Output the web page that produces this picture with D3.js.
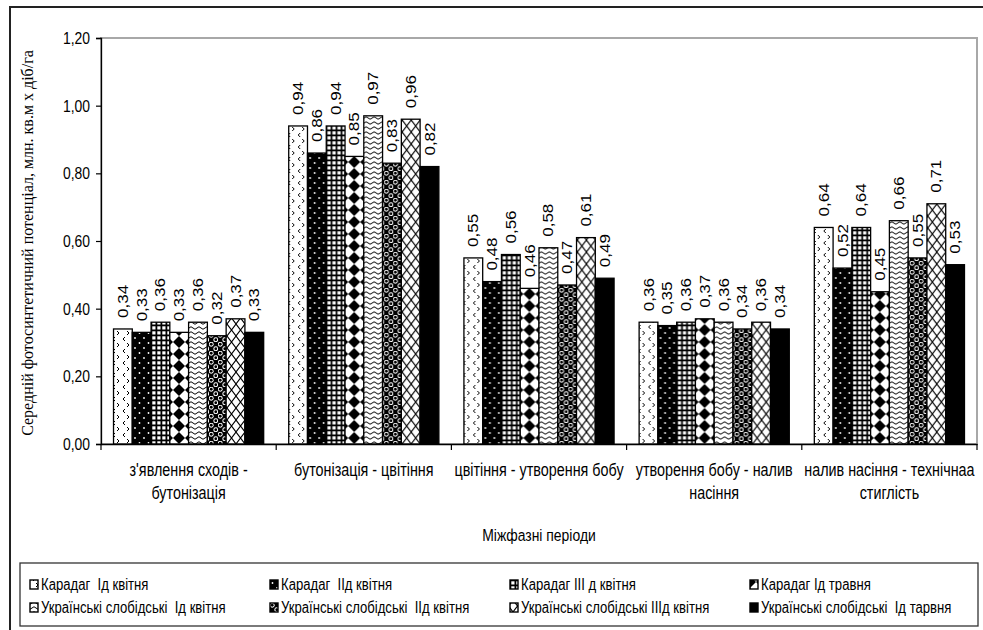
<!DOCTYPE html>
<html>
<head>
<meta charset="utf-8">
<script src="https://cdn.jsdelivr.net/npm/d3@7"></script>
<style>
  html, body { margin: 0; padding: 0; background: #fff; }
  svg { display: block; }
  text { font-family: "Liberation Sans", Arial, sans-serif; fill: #000; white-space: pre; }
</style>
</head>
<body>
<svg id="chart" width="983" height="630"></svg>
<script>
// Interphase periods (category axis)
const categories = [
  "з'явлення сходів -\nбутонізація",
  "бутонізація - цвітіння",
  "цвітіння - утворення бобу",
  "утворення бобу - налив\nнасіння",
  "налив насіння - технічнаа\nстиглість"
];

// Variety / sowing date series
const series = [
  "Карадаг  Ід квітня",
  "Карадаг  ІІд квітня",
  "Карадаг ІІІ д квітня",
  "Карадаг Ід травня",
  "Українські слобідські  Ід квітня",
  "Українські слобідські  ІІд квітня",
  "Українські слобідські ІІІд квітня",
  "Українські слобідські  Ід тарвня"
];

// Mean photosynthetic potential per period, one array per series
const karadag1Apr   = [0.34, 0.94, 0.55, 0.36, 0.64];
const karadag2Apr   = [0.33, 0.86, 0.48, 0.35, 0.52];
const karadag3Apr   = [0.36, 0.94, 0.56, 0.36, 0.64];
const karadag1May   = [0.33, 0.85, 0.46, 0.37, 0.45];
const slobidski1Apr = [0.36, 0.97, 0.58, 0.36, 0.66];
const slobidski2Apr = [0.32, 0.83, 0.47, 0.34, 0.55];
const slobidski3Apr = [0.37, 0.96, 0.61, 0.36, 0.71];
const slobidski1May = [0.33, 0.82, 0.49, 0.34, 0.53];

const seriesValues = [karadag1Apr, karadag2Apr, karadag3Apr, karadag1May,
                      slobidski1Apr, slobidski2Apr, slobidski3Apr, slobidski1May];

const yTicks = [0, 0.2, 0.4, 0.6, 0.8, 1.0, 1.2];

const yTitle = "Середній фотосинтетичний потенціал, млн. кв.м х діб/га";
const xTitle = "Міжфазні періоди";

const svg = d3.select("#chart");
const defs = svg.append("defs");
const SX = 0.82; // horizontal squeeze of lettering

// ---- fill patterns ----
function pat(id, w, h, draw) {
  const p = defs.append("pattern").attr("id", id)
    .attr("patternUnits", "userSpaceOnUse").attr("width", w).attr("height", h);
  draw(p);
}
// small chevrons on white
pat("p0", 10, 12, p => {
  p.append("rect").attr("width", 10).attr("height", 12).attr("fill", "#fff");
  p.append("path").attr("d", "M4,1 L2,3 L4,5").attr("fill", "none").attr("stroke", "#000").attr("stroke-width", 1);
  p.append("path").attr("d", "M6,7 L8,9 L6,11").attr("fill", "none").attr("stroke", "#000").attr("stroke-width", 1);
});
// white dots on black
pat("p1", 9, 10, p => {
  p.append("rect").attr("width", 9).attr("height", 10).attr("fill", "#000");
  p.append("circle").attr("cx", 2.5).attr("cy", 3).attr("r", 0.9).attr("fill", "#fff");
  p.append("circle").attr("cx", 7).attr("cy", 8).attr("r", 0.9).attr("fill", "#fff");
});
// square grid
pat("p2", 5, 5, p => {
  p.append("rect").attr("width", 5).attr("height", 5).attr("fill", "#000");
  p.append("rect").attr("x", 1.3).attr("y", 1.3).attr("width", 3.2).attr("height", 3.2).attr("fill", "#fff");
});
// diamonds
pat("p3", 12, 12, p => {
  p.append("rect").attr("width", 12).attr("height", 12).attr("fill", "#fff");
  p.append("path").attr("d", "M6,0 L12,6 L6,12 L0,6 Z").attr("fill", "#000");
});
// waves
pat("p4", 8, 5, p => {
  p.append("rect").attr("width", 8).attr("height", 5).attr("fill", "#fff");
  p.append("path").attr("d", "M0,3 Q2,0.5 4,3 T8,3").attr("fill", "none").attr("stroke", "#000").attr("stroke-width", 1);
});
// white rings with dark centres on black
pat("p5", 9, 9, p => {
  p.append("rect").attr("width", 9).attr("height", 9).attr("fill", "#000");
  [[2.25, 2.25], [6.75, 6.75]].forEach(([cx, cy]) => {
    p.append("circle").attr("cx", cx).attr("cy", cy).attr("r", 2.4).attr("fill", "#fff");
    p.append("circle").attr("cx", cx).attr("cy", cy).attr("r", 1.4).attr("fill", "#000");
  });
});
// trellis
pat("p6", 9, 12, p => {
  p.append("rect").attr("width", 9).attr("height", 12).attr("fill", "#fff");
  p.append("path").attr("d", "M0,0 L9,12 M9,0 L0,12")
    .attr("stroke", "#000").attr("stroke-width", 1.1);
});
// solid
pat("p7", 4, 4, p => {
  p.append("rect").attr("width", 4).attr("height", 4).attr("fill", "#000");
});
const fills = series.map((s, i) => `url(#p${i})`);

// ---- outer frame ----
svg.append("path").attr("d", "M10,630 V7 H983")
  .attr("fill", "none").attr("stroke", "#222").attr("stroke-width", 2);

// ---- scales ----
const plot = { left: 101, right: 977, top: 38, bottom: 444 };
const y = d3.scaleLinear().domain([0, 1.2]).range([plot.bottom, plot.top]);
const x0 = d3.scaleBand().domain(categories).range([plot.left, plot.right]).padding(0);
const x1 = d3.scaleBand().domain(series).range([0, x0.bandwidth()])
  .paddingInner(0).paddingOuter(0.667);

// plot area border
svg.append("rect")
  .attr("x", plot.left).attr("y", plot.top)
  .attr("width", plot.right - plot.left).attr("height", plot.bottom - plot.top)
  .attr("fill", "none").attr("stroke", "#a8a8a8").attr("stroke-width", 2);

// ---- bars ----
const groups = svg.append("g").selectAll("g").data(categories).join("g")
  .attr("transform", d => `translate(${x0(d)},0)`);

groups.each(function (cat, ci) {
  const g = d3.select(this);
  series.forEach((s, si) => {
    const v = seriesValues[si][ci];
    g.append("rect")
      .attr("x", x1(s)).attr("width", x1.bandwidth())
      .attr("y", y(v)).attr("height", y(0) - y(v))
      .attr("fill", fills[si]).attr("stroke", "#000").attr("stroke-width", 1.3);
    const cx = x1(s) + x1.bandwidth() / 2;
    g.append("text")
      .attr("transform", `translate(${cx},${y(v) - 11}) scale(${SX},1) rotate(-90)`)
      .attr("dy", "0.36em")
      .attr("text-anchor", "start")
      .style("font-size", "17px")
      .text(v.toFixed(2).replace(".", ","));
  });
});

// ---- y axis ----
const yAxis = svg.append("g").attr("transform", `translate(${plot.left},0)`)
  .call(d3.axisLeft(y).tickValues(yTicks).tickSize(5).tickPadding(6)
    .tickFormat(d => d.toFixed(2).replace(".", ",")));
yAxis.select(".domain").attr("stroke", "#000").attr("stroke-width", 1.3);
yAxis.selectAll(".tick line").attr("stroke", "#000").attr("stroke-width", 1.2);
yAxis.selectAll(".tick text")
  .style("font-size", "17px").attr("font-family", null)
  .each(function () {
    const t = d3.select(this);
    const xx = +t.attr("x");
    t.attr("x", null).attr("transform", `translate(${xx},0) scale(${SX},1)`);
  });

// ---- x axis ----
const xAxis = svg.append("g").attr("transform", `translate(0,${plot.bottom})`)
  .call(d3.axisBottom(x0).tickSize(0).tickFormat(""));
xAxis.select(".domain").attr("stroke", "#000").attr("stroke-width", 1.3);
const bounds = categories.map(c => x0(c)).concat([x0(categories[categories.length - 1]) + x0.bandwidth()]);
xAxis.selectAll("line.sep").data(bounds).join("line").attr("class", "sep")
  .attr("x1", d => d).attr("x2", d => d).attr("y1", 0).attr("y2", 6)
  .attr("stroke", "#000").attr("stroke-width", 1.2);

categories.forEach(c => {
  const lines = c.split("\n");
  const cx = x0(c) + x0.bandwidth() / 2;
  const t = svg.append("text")
    .attr("transform", `translate(${cx},${plot.bottom + 32}) scale(${SX},1)`)
    .attr("text-anchor", "middle").style("font-size", "17.5px");
  lines.forEach((l, i) => t.append("tspan").attr("x", 0).attr("dy", i ? 23 : 0).text(l));
});

// axis titles
svg.append("text")
  .attr("transform", `translate(${(plot.left + plot.right) / 2},${541}) scale(${SX},1)`)
  .attr("text-anchor", "middle").style("font-size", "17px").text(xTitle);

svg.append("text")
  .attr("transform", `translate(33,${(plot.top + plot.bottom) / 2 + 2}) rotate(-90)`)
  .attr("text-anchor", "middle")
  .style("font-family", "'Liberation Serif', 'Times New Roman', serif")
  .style("font-size", "16px").text(yTitle);

// ---- legend ----
const legend = svg.append("g");
legend.append("rect").attr("x", 20).attr("y", 563).attr("width", 958).attr("height", 63)
  .attr("fill", "#fff").attr("stroke", "#333").attr("stroke-width", 1.3);
series.forEach((s, i) => {
  const col = i % 4, row = Math.floor(i / 4);
  const tx = 41 + col * 240, ly = 585 + row * 23;
  legend.append("rect").attr("x", tx - 11).attr("y", ly - 5).attr("width", 8).attr("height", 9)
    .attr("fill", fills[i]).attr("stroke", "#000").attr("stroke-width", 1.4);
  legend.append("text")
    .attr("transform", `translate(${tx},${ly + 5}) scale(${SX},1)`)
    .style("font-size", "16px").text(s);
});
</script>
</body>
</html>
